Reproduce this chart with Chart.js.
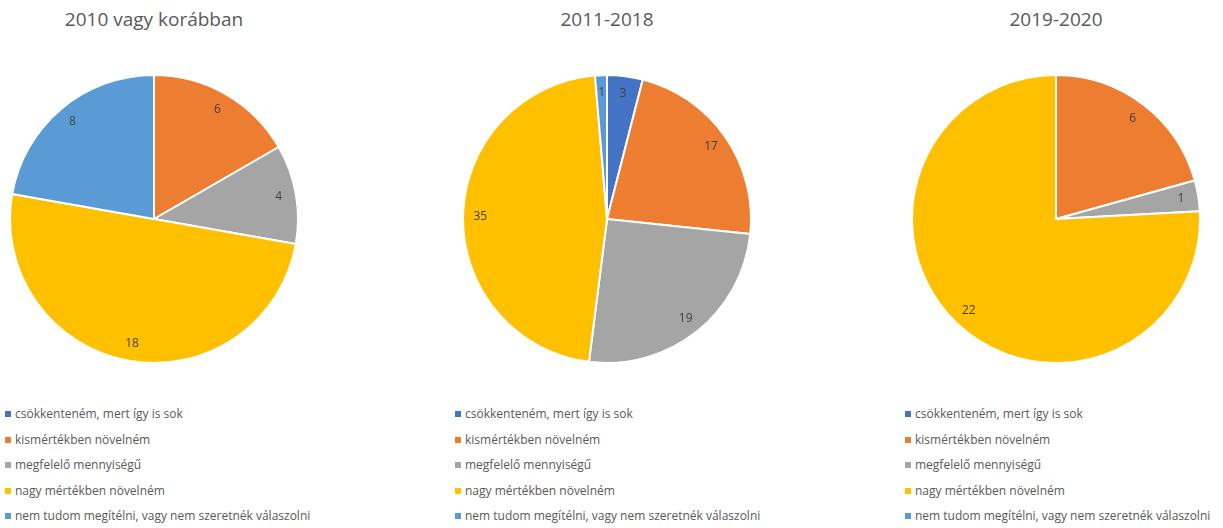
<!DOCTYPE html>
<html>
<head>
<meta charset="utf-8">
<script src="https://cdn.jsdelivr.net/npm/chart.js@4"></script>
<style>
  body { margin: 0; background: #fff; width: 1223px; height: 528px; overflow: hidden; position: relative; font-family: "Open Sans", sans-serif; }
  .cim { position: absolute; top: 6px; width: 300px; text-align: center; font-size: 19px; color: #595959; }
  .pite { position: absolute; }
  .jelmagyarazat { position: absolute; top: 404px; font-size: 12px; color: #595959; }
  .sor { height: 25.5px; line-height: 20px; white-space: nowrap; }
  .doboz { display: inline-block; width: 6px; height: 6px; margin-right: 4px; vertical-align: 1px; }
</style>
</head>
<body>
<div id="tartalom"></div>
<script>
// === Adatok ===
const kategoriak = [
    "csökkenteném, mert így is sok",
    "kismértékben növelném",
    "megfelelő mennyiségű",
    "nagy mértékben növelném",
    "nem tudom megítélni, vagy nem szeretnék válaszolni"
];
const cimek = ["2010 vagy korábban", "2011-2018", "2019-2020"];
const ertekek2010 = [0, 6, 4, 18, 8];
const ertekek2011 = [3, 17, 19, 35, 1];
const ertekek2019 = [0, 6, 1, 22, 0];
const szinek = ["#4472c4", "#ed7d31", "#a5a5a5", "#ffc000", "#5b9bd5"];

// pite középpontok (x) es a jelmagyarázat bal széle
const kozeppontX = [154, 607, 1056];
const legendaX = [5, 455, 905];
const kozeppontY = 219;
const meret = 290;

// === Címkék a szeletekben ===
const cimkePlugin = {
    id: "szeletCimkek",
    afterDatasetsDraw(chart) {
        const ctx = chart.ctx;
        const meta = chart.getDatasetMeta(0);
        ctx.save();
        ctx.font = "12px 'Open Sans', sans-serif";
        ctx.fillStyle = "#404040";
        ctx.textAlign = "center";
        ctx.textBaseline = "middle";
        meta.data.forEach((ív, i) => {
            const ertek = chart.data.datasets[0].data[i];
            if (!ertek) return;
            const p = ív.getProps(["x", "y", "startAngle", "endAngle", "outerRadius"], true);
            const szog = (p.startAngle + p.endAngle) / 2;
            const r = p.outerRadius * 0.88;
            ctx.fillText(ertek, p.x + Math.cos(szog) * r, p.y + Math.sin(szog) * r);
        });
        ctx.restore();
    }
};

const tartalom = document.getElementById("tartalom");
[ertekek2010, ertekek2011, ertekek2019].forEach((adat, n) => {
    // cím
    const cim = document.createElement("div");
    cim.className = "cim";
    cim.style.left = (kozeppontX[n] - 150) + "px";
    cim.textContent = cimek[n];
    tartalom.appendChild(cim);

    // pite
    const doboz = document.createElement("div");
    doboz.className = "pite";
    doboz.style.left = (kozeppontX[n] - meret / 2) + "px";
    doboz.style.top = (kozeppontY - meret / 2) + "px";
    doboz.style.width = meret + "px";
    doboz.style.height = meret + "px";
    const vaszon = document.createElement("canvas");
    doboz.appendChild(vaszon);
    tartalom.appendChild(doboz);

    new Chart(vaszon, {
        type: "pie",
        data: {
            labels: kategoriak,
            datasets: [{ data: adat, backgroundColor: szinek, borderColor: "#ffffff", borderWidth: 2 }]
        },
        options: {
            responsive: true,
            maintainAspectRatio: false,
            animation: false,
            layout: { padding: 0 },
            plugins: { legend: { display: false }, tooltip: { enabled: false } }
        },
        plugins: [cimkePlugin]
    });

    // jelmagyarázat
    const lista = document.createElement("div");
    lista.className = "jelmagyarazat";
    lista.style.left = legendaX[n] + "px";
    kategoriak.forEach((k, i) => {
        const sor = document.createElement("div");
        sor.className = "sor";
        sor.innerHTML = '<span class="doboz" style="background:' + szinek[i] + '"></span>' + k;
        lista.appendChild(sor);
    });
    tartalom.appendChild(lista);
});
</script>
</body>
</html>
